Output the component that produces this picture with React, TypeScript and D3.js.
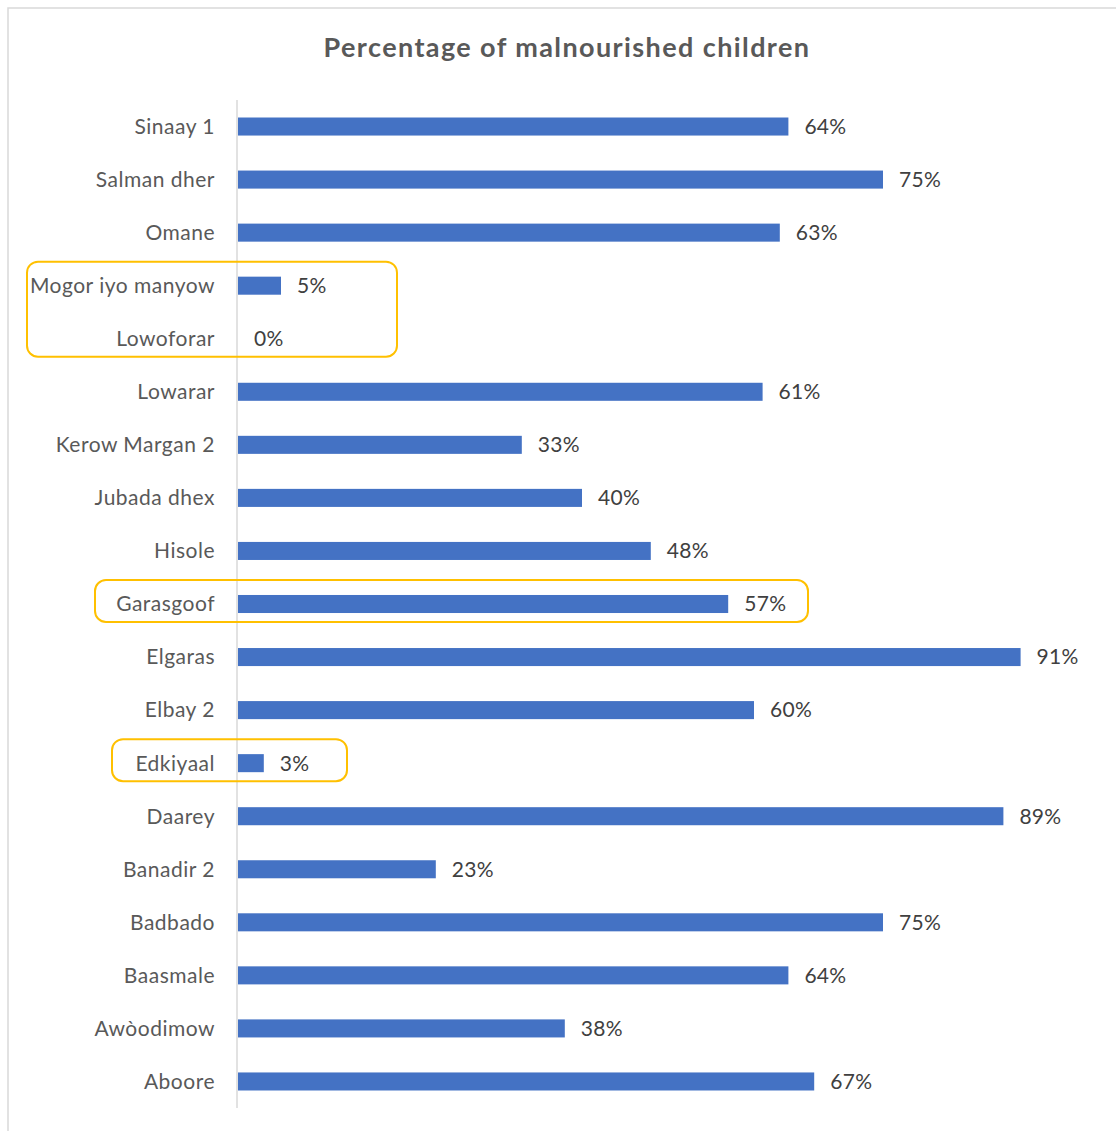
import React from "react";
import * as d3 from "d3";

const categories = [
  "Sinaay 1", "Salman dher", "Omane", "Mogor iyo manyow", "Lowoforar", "Lowarar",
  "Kerow Margan 2", "Jubada dhex", "Hisole", "Garasgoof", "Elgaras", "Elbay 2",
  "Edkiyaal", "Daarey", "Banadir 2", "Badbado", "Baasmale", "Awòodimow", "Aboore",
];
const values = [64, 75, 63, 5, 0, 61, 33, 40, 48, 57, 91, 60, 3, 89, 23, 75, 64, 38, 67];
const title = "Percentage of malnourished children";

// highlighted groups: first & last category, and horizontal extent
const highlights = [
  { from: "Mogor iyo manyow", to: "Lowoforar", left: 27, right: 397 },
  { from: "Garasgoof", to: "Garasgoof", left: 95, right: 808 },
  { from: "Edkiyaal", to: "Edkiyaal", left: 112, right: 347 },
];

const W = 1116;
const H = 1131;

export default function App() {
  const x = d3.scaleLinear().domain([0, 100]).range([238, 1098]);
  const y = d3.scaleBand<string>().domain(categories).range([100, 1108]).paddingInner(0.66).paddingOuter(0.33);
  const bw = y.bandwidth();
  const font = "Lato, 'Open Sans', sans-serif";
  const fmt = (v: number) => `${v}%`;

  return (
    <svg width={W} height={H} style={{ position: "absolute", left: 0, top: 0, background: "#fff" }}>
      <rect x={8} y={8} width={W + 20} height={H + 20} fill="#fff" stroke="#d9d9d9" strokeWidth={1.5} />
      <text x={567} y={57} textAnchor="middle" fontFamily={font} fontWeight={700} fontSize={27} letterSpacing={1.4} fill="#595959">
        {title}
      </text>
      <line x1={237} x2={237} y1={100} y2={1108} stroke="#d9d9d9" strokeWidth={1.5} />
      {categories.map((c, i) => {
        const yy = y(c)!;
        const cy = yy + bw / 2;
        return (
          <g key={c}>
            <rect x={x(0)} y={yy} width={x(values[i]) - x(0)} height={bw} fill="#4472c4" />
            <text x={215} y={cy} dy="0.35em" textAnchor="end" fontFamily={font} fontSize={21} letterSpacing={0.5} fill="#595959">
              {c}
            </text>
            <text x={x(values[i]) + 16} y={cy} dy="0.35em" textAnchor="start" fontFamily={font} fontSize={21} letterSpacing={0.3} fill="#404040">
              {fmt(values[i])}
            </text>
          </g>
        );
      })}
      {highlights.map((h, i) => {
        const top = y(h.from)! + bw / 2 - 24;
        const bottom = y(h.to)! + bw / 2 + 18;
        return (
          <rect key={i} x={h.left} y={top} width={h.right - h.left} height={bottom - top} rx={11} fill="none" stroke="#ffc000" strokeWidth={2} />
        );
      })}
    </svg>
  );
}
